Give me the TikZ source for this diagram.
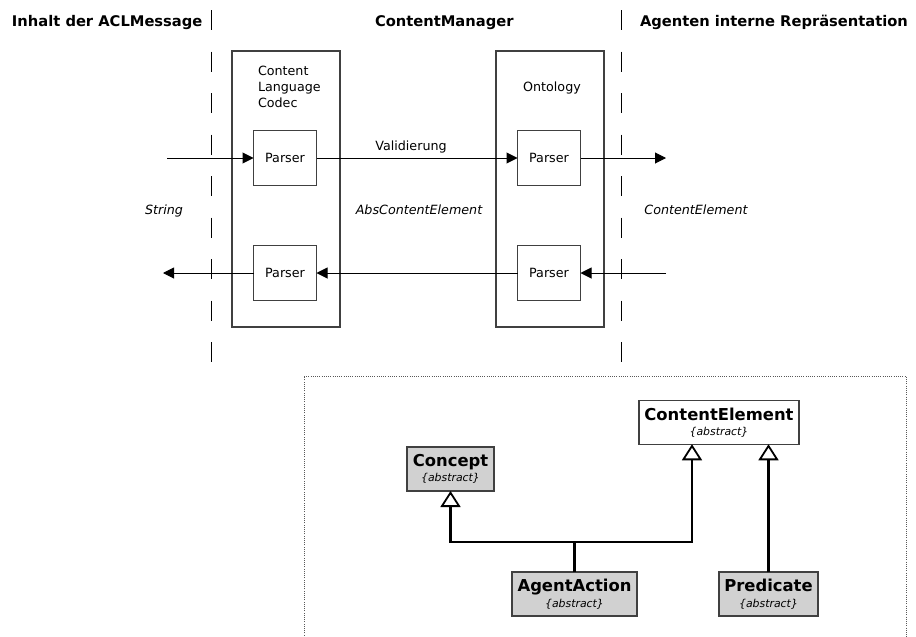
\documentclass[tikz,border=0pt]{standalone}
\usepackage{fontspec}
\setmainfont{DejaVu Sans}
\usetikzlibrary{arrows.meta,calc}

\begin{document}
\begin{tikzpicture}[x=1pt,y=-1pt,
  every node/.style={inner sep=0pt, outer sep=0pt},
  hdr/.style={font=\fontsize{14.7}{17}\selectfont\bfseries, anchor=base west},
  itl/.style={font=\fontsize{12.7}{16}\selectfont\itshape, anchor=base},
  plain/.style={font=\fontsize{12.7}{16}\selectfont},
  frame/.style={draw=black!75, line width=1.2pt},
  parser/.style={frame, fill=white, minimum width=63pt, minimum height=55pt, font=\fontsize{12.7}{16}\selectfont},
  flow/.style={line width=1pt, -{Triangle[length=11pt,width=11pt]}},
  divider/.style={line width=1pt, dash pattern=on 20pt off 21.5pt},
  cls/.style={draw=black!75, line width=1.3pt, fill=black!18, minimum height=44pt, align=center, font=\fontsize{16.4}{15.5}\selectfont},
  inherit/.style={line width=2.2pt, -{Triangle[open, length=16pt, width=20pt, line width=1.8pt]}},
]
\useasboundingbox (0,0) rectangle (916,637);

% column headings
\node[hdr] (hleft) at (12,26.5) {Inhalt der ACLMessage};
\node[hdr] (hmid) at (375,26.5) {ContentManager};
\node[hdr] (hright) at (640,26.5) {Agenten interne Repräsentation};

% column dividers
\coordinate (d1a) at (211,10);
\coordinate (d1b) at (211,364);
\coordinate (d2a) at (621,10);
\coordinate (d2b) at (621,364);
\draw[divider] (d1a) -- (d1b);
\draw[divider] (d2a) -- (d2b);

% codec and ontology containers
\node[frame, minimum width=108pt, minimum height=276pt] (codec) at (286,189) {};
\node[frame, minimum width=108pt, minimum height=276pt] (onto) at (550,189) {};
\node[plain, align=left, anchor=north west] (codeclbl) at (258,65.6) {Content\\Language\\Codec};
\node[plain, anchor=base] (ontolbl) at (552,91.5) {Ontology};

% parsers
\node[parser] (p1) at (285,158) {Parser};
\node[parser] (p2) at (549,158) {Parser};
\node[parser] (p3) at (285,273) {Parser};
\node[parser] (p4) at (549,273) {Parser};

% message flow
\coordinate (inL) at (167,158);
\coordinate (outR) at (666,158);
\coordinate (inR) at (666,273);
\coordinate (outL) at (163,273);
\draw[flow] (inL) -- (p1.west);
\draw[flow] (p1.east) -- (p2.west);
\draw[flow] (p2.east) -- (outR);
\draw[flow] (inR) -- (p4.east);
\draw[flow] (p4.west) -- (p3.east);
\draw[flow] (p3.west) -- (outL);

\node[plain, anchor=base] (valid) at (411,150) {Validierung};
\node[itl] (tstring) at (164,214) {String};
\node[itl] (tabs) at (419,214) {AbsContentElement};
\node[itl] (tce) at (696,214) {ContentElement};

% class hierarchy frame
\draw[black!65, line width=1pt, dash pattern=on 1pt off 1.2pt] (304,640) -- (304,376) -- (906,376) -- (906,640);

\node[cls, fill=white, minimum width=160pt, minimum height=43.5pt] (ce) at (719,422.5)
  {{\bfseries ContentElement}\\{\fontsize{10.9}{13}\selectfont\itshape\{abstract\}}};
\node[cls, minimum width=87pt] (concept) at (450.5,469)
  {{\bfseries Concept}\\{\fontsize{10.9}{13}\selectfont\itshape\{abstract\}}};
\node[cls, minimum width=125pt] (aa) at (574.5,594)
  {{\bfseries AgentAction}\\{\fontsize{10.9}{13}\selectfont\itshape\{abstract\}}};
\node[cls, minimum width=99pt] (pred) at (768.5,594)
  {{\bfseries Predicate}\\{\fontsize{10.9}{13}\selectfont\itshape\{abstract\}}};

\path (aa.north) ++(0,-30) coordinate (junc);
\coordinate (ceport) at ($(ce.south west)+(53,0)$);
\draw[line width=2.2pt] (aa.north) -- (junc);
\draw[inherit] (junc) -| (concept.south);
\draw[inherit] (junc) -| (ceport);
\draw[inherit] (pred.north) -- (pred.north |- ce.south);
\end{tikzpicture}
\end{document}
